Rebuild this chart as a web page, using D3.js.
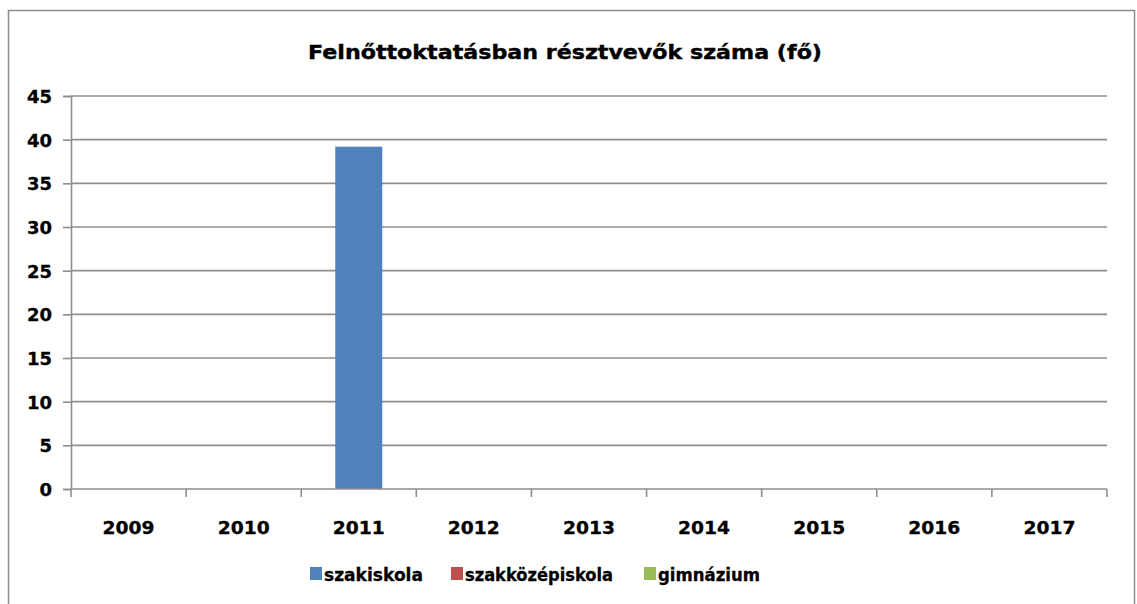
<!DOCTYPE html>
<html>
<head>
<meta charset="utf-8">
<script src="https://cdn.jsdelivr.net/npm/d3@7"></script>
<style>
  html, body { margin: 0; padding: 0; background: #fff; }
  svg { display: block; }
  text { font-family: "DejaVu Sans", Verdana, sans-serif; font-weight: bold; fill: #000; }
</style>
</head>
<body>
<svg id="chart" width="1137" height="604"></svg>
<script>
const title = "Felnőttoktatásban résztvevők száma (fő)";
const categories = ["2009", "2010", "2011", "2012", "2013", "2014", "2015", "2016", "2017"];
const seriesNames = ["szakiskola", "szakközépiskola", "gimnázium"];
const seriesColors = ["#4f81bd", "#c0504d", "#9bbb59"];
const szakiskola = [0, 0, 39.2, 0, 0, 0, 0, 0, 0];
const szakkozepiskola = [0, 0, 0, 0, 0, 0, 0, 0, 0];
const gimnazium = [0, 0, 0, 0, 0, 0, 0, 0, 0];
const yTicks = [0, 5, 10, 15, 20, 25, 30, 35, 40, 45];

const seriesValues = [szakiskola, szakkozepiskola, gimnazium];

const svg = d3.select("#chart");
const plot = { left: 71, right: 1107, top: 96, bottom: 489 };

// outer border
svg.append("rect")
  .attr("x", 8.5).attr("y", 10.5)
  .attr("width", 1126).attr("height", 620)
  .attr("fill", "#fff").attr("stroke", "#8c8c8c").attr("stroke-width", 1.5);

// title
svg.append("text")
  .attr("x", 565).attr("y", 59)
  .attr("text-anchor", "middle")
  .attr("font-size", 19)
  .attr("stroke", "#000").attr("stroke-width", 0.4)
  .attr("textLength", 514).attr("lengthAdjust", "spacingAndGlyphs")
  .text(title);

const x = d3.scaleBand().domain(categories).range([plot.left, plot.right]).paddingInner(0).paddingOuter(0);
const y = d3.scaleLinear().domain([0, 45]).range([plot.bottom, plot.top]);

const gridColor = "#8e8e8e";

// gridlines
svg.append("g").selectAll("line").data(yTicks.filter(d => d > 0)).join("line")
  .attr("x1", plot.left).attr("x2", plot.right)
  .attr("y1", d => y(d)).attr("y2", d => y(d))
  .attr("stroke", gridColor).attr("stroke-width", 1.6);

// y axis
const yAxis = svg.append("g").attr("transform", `translate(${plot.left},0)`)
  .call(d3.axisLeft(y).tickValues(yTicks).tickSize(8).tickPadding(11).tickFormat(d3.format("d")));
yAxis.select(".domain").attr("stroke", gridColor).attr("stroke-width", 1.6);
yAxis.selectAll(".tick line").attr("stroke", gridColor).attr("stroke-width", 1.6);
yAxis.selectAll(".tick text").attr("font-size", 18).attr("font-family", "DejaVu Sans").attr("font-weight", "bold")
  .attr("fill", "#000").attr("stroke", "#000").attr("stroke-width", 0.3).attr("dy", "0.36em");

// bars (series overlap, centered in the category)
const barW = 47;
seriesValues.forEach((vals, si) => {
  svg.append("g").selectAll("rect").data(vals.map((v, i) => ({ v, c: categories[i] })).filter(d => d.v > 0)).join("rect")
    .attr("x", d => x(d.c) + x.bandwidth() / 2 - barW / 2)
    .attr("width", barW)
    .attr("y", d => y(d.v))
    .attr("height", d => y(0) - y(d.v))
    .attr("fill", seriesColors[si]);
});

// x axis
const xTickPos = categories.map(c => x(c)).concat([plot.right]);
const xg = svg.append("g");
xg.append("line").attr("x1", plot.left).attr("x2", plot.right).attr("y1", plot.bottom).attr("y2", plot.bottom)
  .attr("stroke", gridColor).attr("stroke-width", 1.6);
xg.selectAll("line.t").data(xTickPos).join("line").attr("class", "t")
  .attr("x1", d => d).attr("x2", d => d).attr("y1", plot.bottom).attr("y2", plot.bottom + 8)
  .attr("stroke", gridColor).attr("stroke-width", 1.6);
xg.selectAll("text").data(categories).join("text")
  .attr("x", d => x(d) + x.bandwidth() / 2)
  .attr("y", 534)
  .attr("text-anchor", "middle")
  .attr("font-size", 17)
  .attr("stroke", "#000").attr("stroke-width", 0.3)
  .attr("textLength", 52).attr("lengthAdjust", "spacingAndGlyphs")
  .text(d => d);

// legend
const legendItems = [
  { name: seriesNames[0], color: seriesColors[0], sx: 310, tx: 324, tw: 99 },
  { name: seriesNames[1], color: seriesColors[1], sx: 451, tx: 465, tw: 148 },
  { name: seriesNames[2], color: seriesColors[2], sx: 644, tx: 658, tw: 102 }
];
const lg = svg.append("g");
legendItems.forEach(it => {
  lg.append("rect").attr("x", it.sx).attr("y", 567).attr("width", 12).attr("height", 13).attr("fill", it.color);
  lg.append("text").attr("x", it.tx).attr("y", 581).attr("font-size", 17)
    .attr("stroke", "#000").attr("stroke-width", 0.3)
    .attr("textLength", it.tw).attr("lengthAdjust", "spacingAndGlyphs")
    .text(it.name);
});
</script>
</body>
</html>
